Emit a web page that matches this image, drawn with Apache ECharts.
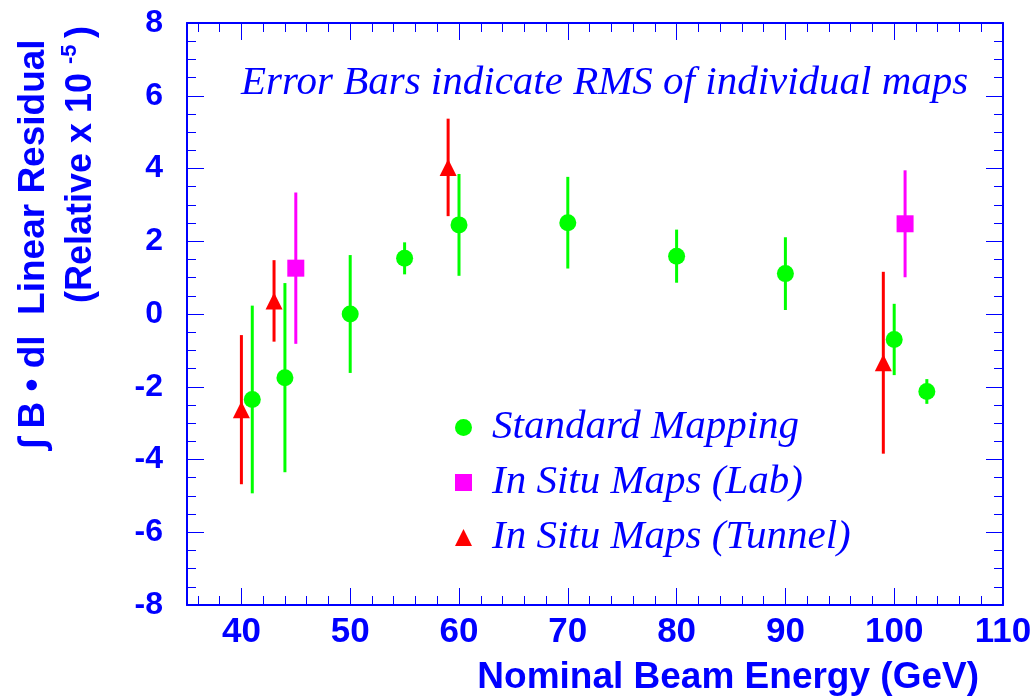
<!DOCTYPE html>
<html>
<head>
<meta charset="utf-8">
<script src="https://cdn.jsdelivr.net/npm/echarts@6/dist/echarts.min.js"></script>
<style>
  html, body { margin: 0; padding: 0; background: #ffffff; }
  #chart { width: 1035px; height: 698px; }
</style>
</head>
<body>
<div id="chart"></div>
<script>
// Standard mapping: beam energy (GeV), residual (x1e-5), RMS of individual maps
const stdEnergy   = [41, 44, 50, 55, 60, 70, 80, 90, 100, 103];
const stdResidual = [-2.35, -1.75, 0.0, 1.53, 2.45, 2.51, 1.59, 1.11, -0.70, -2.13];
const stdRms      = [2.58, 2.60, 1.62, 0.44, 1.40, 1.26, 0.73, 1.00, 0.98, 0.34];

// In situ maps taken in the lab
const labEnergy   = [45, 101];
const labResidual = [1.26, 2.48];
const labRms      = [2.08, 1.47];

// In situ maps taken in the tunnel
const tunEnergy   = [40, 43, 59, 99];
const tunResidual = [-2.63, 0.36, 4.03, -1.34];
const tunRms      = [2.05, 1.12, 1.34, 2.50];

// Axis ticks
const xMajorTicks = [40, 50, 60, 70, 80, 90, 100, 110];
const xMinorTicks = [36, 38, 42, 44, 46, 48, 52, 54, 56, 58, 62, 64, 66, 68,
                     72, 74, 76, 78, 82, 84, 86, 88, 92, 94, 96, 98, 102, 104, 106, 108];

const BLUE = '#0000ff';
const SANS = '"Liberation Sans", Arial, Helvetica, sans-serif';
const SERIF = '"Liberation Serif", "Times New Roman", serif';

const chart = echarts.init(document.getElementById('chart'), null, { renderer: 'canvas' });

function points(xs, ys, es) {
  return xs.map((x, i) => [x, ys[i], es[i]]);
}

function errorBars(color) {
  return function (params, api) {
    const x = api.value(0), y = api.value(1), e = api.value(2);
    const hi = api.coord([x, y + e]);
    const lo = api.coord([x, y - e]);
    return {
      type: 'line',
      shape: { x1: hi[0], y1: hi[1], x2: lo[0], y2: lo[1] },
      style: { stroke: color, lineWidth: 3 }
    };
  };
}

function xAxisDef(position, ticks, len, withLine, withLabels) {
  return {
    type: 'value', min: 35, max: 110, position: position,
    axisLine: { show: withLine, onZero: false, lineStyle: { color: BLUE, width: 2 } },
    axisTick: { show: true, inside: true, length: len, customValues: ticks,
                lineStyle: { color: BLUE, width: 1 } },
    axisLabel: withLabels ? {
      show: true, customValues: xMajorTicks, margin: 10,
      color: BLUE, fontFamily: SANS, fontWeight: 'bold', fontSize: 35
    } : { show: false },
    splitLine: { show: false }
  };
}

function yAxisDef(position, withLabels) {
  return {
    type: 'value', min: -8, max: 8, interval: 2, position: position,
    axisLine: { show: true, onZero: false, lineStyle: { color: BLUE, width: 2 } },
    axisTick: { show: true, inside: true, length: 17, lineStyle: { color: BLUE, width: 1 } },
    minorTick: { show: true, splitNumber: 4, length: 9, lineStyle: { color: BLUE, width: 1 } },
    axisLabel: withLabels ? {
      show: true, margin: 24, color: BLUE, fontFamily: SANS, fontWeight: 'bold', fontSize: 32
    } : { show: false },
    splitLine: { show: false }
  };
}

const option = {
  animation: false,
  backgroundColor: '#ffffff',
  grid: { left: 187, right: 32, top: 23, bottom: 93, containLabel: false },
  xAxis: [
    xAxisDef('bottom', xMajorTicks, 17, true, true),
    xAxisDef('bottom', xMinorTicks, 9, false, false),
    xAxisDef('top', xMajorTicks, 17, true, false),
    xAxisDef('top', xMinorTicks, 9, false, false)
  ],
  yAxis: [
    yAxisDef('left', true),
    yAxisDef('right', false)
  ],
  legend: {
    orient: 'vertical',
    left: 450, top: 402,
    itemWidth: 17, itemHeight: 17, itemGap: 14,
    selectedMode: false,
    textStyle: { color: BLUE, fontFamily: SERIF, fontStyle: 'italic', fontSize: 41,
                 lineHeight: 41, padding: [0, 0, 0, 15] },
    data: [
      { name: 'Standard Mapping', icon: 'circle' },
      { name: 'In Situ Maps (Lab)', icon: 'rect' },
      { name: 'In Situ Maps (Tunnel)', icon: 'triangle' }
    ]
  },
  series: [
    { type: 'custom', id: 'stdErr', renderItem: errorBars('#00ff00'), z: 2,
      data: points(stdEnergy, stdResidual, stdRms), encode: { x: 0, y: 1 } },
    { type: 'custom', id: 'labErr', renderItem: errorBars('#ff00ff'), z: 2,
      data: points(labEnergy, labResidual, labRms), encode: { x: 0, y: 1 } },
    { type: 'custom', id: 'tunErr', renderItem: errorBars('#ff0000'), z: 2,
      data: points(tunEnergy, tunResidual, tunRms), encode: { x: 0, y: 1 } },
    { type: 'scatter', name: 'Standard Mapping', symbol: 'circle', symbolSize: 17, z: 3,
      itemStyle: { color: '#00ff00', opacity: 1 },
      data: stdEnergy.map((x, i) => [x, stdResidual[i]]) },
    { type: 'scatter', name: 'In Situ Maps (Lab)', symbol: 'rect', symbolSize: 17, z: 3,
      itemStyle: { color: '#ff00ff', opacity: 1 },
      data: labEnergy.map((x, i) => [x, labResidual[i]]) },
    { type: 'scatter', name: 'In Situ Maps (Tunnel)', symbol: 'triangle', symbolSize: 17, z: 3,
      itemStyle: { color: '#ff0000', opacity: 1 },
      data: tunEnergy.map((x, i) => [x, tunResidual[i]]) }
  ],
  graphic: [
    { type: 'text', x: 241, y: 83, z: 10,
      style: { text: 'Error Bars indicate RMS of individual maps', fill: BLUE,
               font: 'italic 41px ' + SERIF, align: 'left', verticalAlign: 'middle' } },
    { type: 'text', x: 979, y: 678, z: 10,
      style: { text: 'Nominal Beam Energy (GeV)', fill: BLUE,
               font: 'bold 37px ' + SANS, align: 'right', verticalAlign: 'middle' } },
    { type: 'text', x: 34, y: 449, rotation: Math.PI / 2, z: 10,
      style: { text: '\u222B B \u2022 dl  Linear Residual', fill: BLUE,
               font: 'bold 37px ' + SANS, align: 'left', verticalAlign: 'middle' } },
    { type: 'text', x: 81, y: 303, rotation: Math.PI / 2, z: 10,
      style: { text: '(Relative x 10', fill: BLUE,
               font: 'bold 36px ' + SANS, align: 'left', verticalAlign: 'middle' } },
    { type: 'text', x: 70, y: 64, rotation: Math.PI / 2, z: 10,
      style: { text: '-5', fill: BLUE,
               font: 'bold 22px ' + SANS, align: 'left', verticalAlign: 'middle' } },
    { type: 'text', x: 81, y: 38, rotation: Math.PI / 2, z: 10,
      style: { text: ')', fill: BLUE,
               font: 'bold 36px ' + SANS, align: 'left', verticalAlign: 'middle' } }
  ]
};

chart.setOption(option);
</script>
</body>
</html>
